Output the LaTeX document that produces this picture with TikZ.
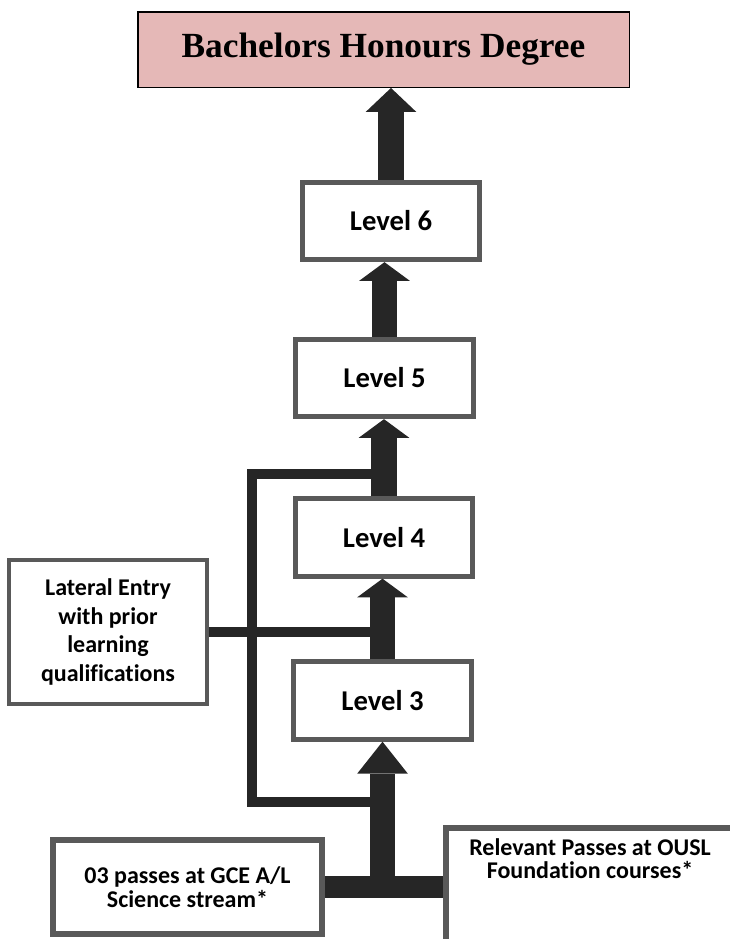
\documentclass[tikz,border=0pt]{standalone}
\usepackage{fontspec}
\setmainfont{Carlito}[Ligatures=CommonOff]
\newfontfamily\titlefont{Liberation Serif}
\usetikzlibrary{arrows.meta}
\definecolor{degreepink}{HTML}{E5B8B7}
\definecolor{boxgray}{HTML}{595959}
\definecolor{arrowdark}{HTML}{262626}

\begin{document}
\begin{tikzpicture}[
    x=0.75pt, y=-0.75pt,
    every node/.style={fill=white, align=center, inner sep=3pt},
    levelbox/.style={draw=boxgray, line width=3.75pt, minimum width=133pt, minimum height=58pt,
                     font=\bfseries\fontsize{21.5}{25}\selectfont},
    entrybox/.style={draw=boxgray, line width=4.5pt, font=\bfseries\fontsize{18}{17.5}\selectfont},
    bigarrow/.style={draw=arrowdark, line width=19pt, -{Triangle[width=38pt,length=#1,line width=0pt]}},
    bigarrow/.default=14pt,
    feed/.style={draw=arrowdark, line width=7.5pt},
    bar/.style={draw=arrowdark, line width=17pt}
  ]
  \useasboundingbox (0,0) rectangle (729,939);
  \node (degree) [draw=black, line width=1.1pt, fill=degreepink, minimum width=368.6pt, minimum height=56.6pt,
                  font=\titlefont\bfseries\fontsize{26.5}{30}\selectfont] at (383.5,49.5) {Bachelors Honours Degree};
  \node (lv6) [levelbox] at (391,221)   {Level 6};
  \node (lv5) [levelbox] at (384.5,378) {Level 5};
  \node (lv4) [levelbox] at (384,537.5) {Level 4};
  \node (lv3) [levelbox] at (382.5,700.5) {Level 3};
  \node (lateral) [entrybox, line width=3pt, minimum width=148.5pt, minimum height=108pt,
                   font=\bfseries\fontsize{18}{21.4}\selectfont] at (108,632)
                  {Lateral Entry\\with prior\\learning\\qualifications};
  \node (gce)  [entrybox, minimum width=201.75pt, minimum height=70.5pt] at (187.5,887)
               {03 passes at GCE A/L\\Science stream*};
  \node (ousl) [entrybox, minimum width=216pt, anchor=north, inner ysep=8pt, text depth=80pt] at (590,825)
               {Relevant Passes at OUSL\\Foundation courses*};
  % loop and lateral feeds
  \coordinate (tapin)  at (382.5,802);
  \coordinate (corner) at (252,474);
  \coordinate (tapout) at (384,474);
  \draw[feed] (tapin) -| (corner) -- (tapout);
  \draw[feed] (lateral.east) -- (lateral.east -| lv4.south);
  % entry bar
  \draw[bar] (gce.east) -- (gce.east -| ousl.west);
  \coordinate (join) at (lv3.south |- gce.east);
  % arrows
  \draw[bigarrow=24pt] (join) -- (lv3.south);
  \draw[bigarrow] (lv3.north) -- (lv3.north |- lv4.south);
  \draw[bigarrow] (lv4.north) -- (lv4.north |- lv5.south);
  \draw[bigarrow] (lv5.north) -- (lv5.north |- lv6.south);
  \draw[bigarrow=18pt] (lv6.north) -- (lv6.north |- degree.south);
\end{tikzpicture}
\end{document}
